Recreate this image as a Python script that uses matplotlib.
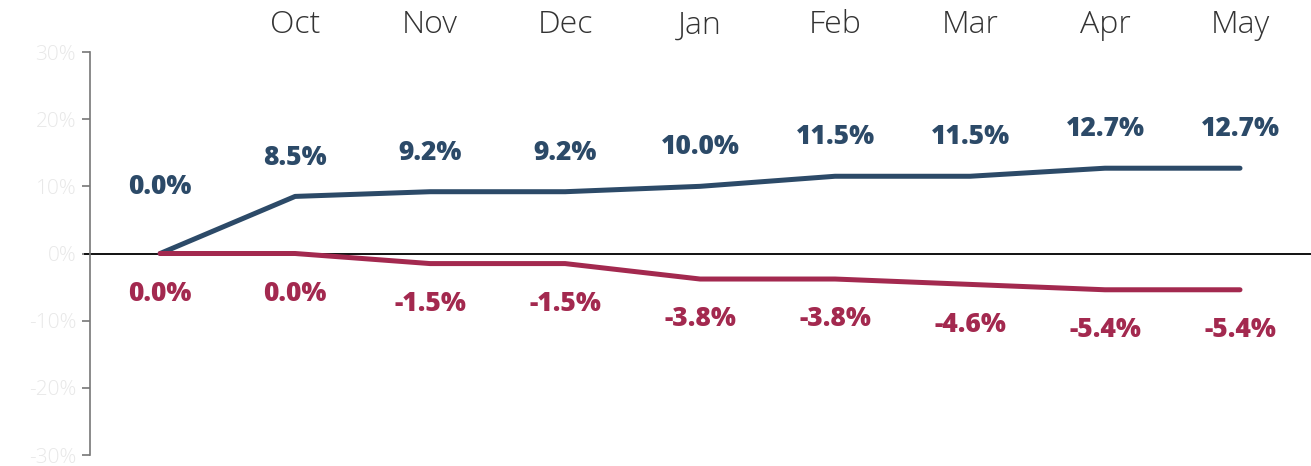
import matplotlib.pyplot as plt
import numpy as np

months = ["", "Oct", "Nov", "Dec", "Jan", "Feb", "Mar", "Apr", "May"]
blue_vals = [0.0, 8.5, 9.2, 9.2, 10.0, 11.5, 11.5, 12.7, 12.7]
red_vals = [0.0, 0.0, -1.5, -1.5, -3.8, -3.8, -4.6, -5.4, -5.4]
yticks = [-30, -20, -10, 0, 10, 20, 30]

BLUE = "#2c4a68"
RED = "#a3294f"
FONT = ["Open Sans", "DejaVu Sans"]

fig = plt.figure(figsize=(13.11, 4.66), dpi=100)
ax = fig.add_axes([0.0687, 0.0236, 0.9313, 0.8648])

x = np.arange(len(months))
ax.plot(x, blue_vals, color=BLUE, lw=3.6, solid_capstyle="round", zorder=3)
ax.plot(x, red_vals, color=RED, lw=3.6, solid_capstyle="round", zorder=3)
ax.axhline(0, color="#111111", lw=1.4, zorder=2, xmin=-0.004, clip_on=False)

# value labels
for i, v in enumerate(blue_vals):
    off = 48 if i == 0 else 28
    ax.annotate(f"{v:.1f}%", (i, v), xytext=(0, off), textcoords="offset points",
                ha="center", va="center", color=BLUE, fontsize=19,
                fontweight="heavy", family=FONT)
for i, v in enumerate(red_vals):
    ax.annotate(f"{v:.1f}%", (i, v), xytext=(0, -29), textcoords="offset points",
                ha="center", va="center", color=RED, fontsize=19,
                fontweight="heavy", family=FONT)

# month labels along the top
for i, m in enumerate(months):
    ax.text(i, 1.066, m, transform=ax.get_xaxis_transform(), ha="center", va="center",
            fontsize=23, color="#333333", fontweight="light", family=FONT)

ax.set_xlim(-0.519, 8.526)
ax.set_ylim(-30, 30)
ax.set_yticks(yticks)
ax.set_yticklabels([f"{t}%" for t in yticks], color="#e8e8e8", fontsize=15,
                   family=FONT, fontweight="light")
ax.tick_params(axis="y", length=6, width=1.2, color="#777777", pad=4)
ax.set_xticks([])

for s in ["top", "right", "bottom"]:
    ax.spines[s].set_visible(False)
ax.spines["left"].set_color("#777777")
ax.spines["left"].set_linewidth(1.2)

fig.savefig("out.png", dpi=100)
